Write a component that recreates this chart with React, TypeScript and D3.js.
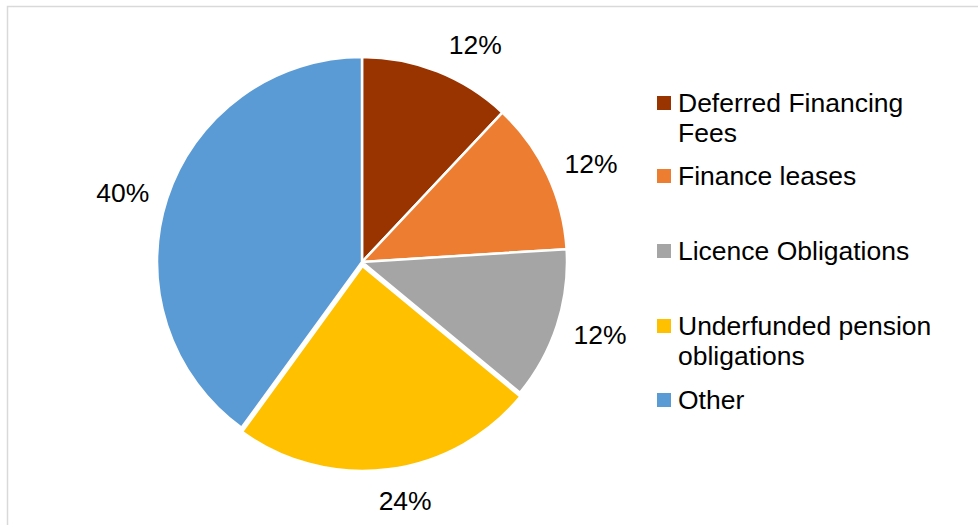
import React from "react";
import * as d3 from "d3";

const categories = [
    "Deferred Financing Fees",
    "Finance leases",
    "Licence Obligations",
    "Underfunded pension obligations",
    "Other",
];
const values = [12, 12, 12, 24, 40];
const pctLabels = ["12%", "12%", "12%", "24%", "40%"];
// legend text split into lines like the original wraps them
const legendLines = [
    ["Deferred Financing", "Fees"],
    ["Finance leases"],
    ["Licence Obligations"],
    ["Underfunded pension", "obligations"],
    ["Other"],
];
const colors = ["#993300", "#ED7D31", "#A5A5A5", "#FFC000", "#5B9BD5"];

const W = 978;
const H = 525;
const cx = 362;
const cy = 262;
const radius = 205;
const explodeIdx = 3; // yellow slice pulled out a bit
const explodeBy = 4;
// labels sit just outside the pie: box edge at labelGap from centre
const labelGap = 226;
const labelHalfW = 21;
const labelHalfH = 10;
// excel nudges some labels away from the mid angle (degrees)
const labelShift = [6, 2, -1, -3, -2];
const legendRowY = [103, 176, 251, 326, 400];
const stretchX = 1.06;

const font = "'Liberation Sans', Arial, sans-serif";

export default function App() {
    const pie = d3.pie<number>().sort(null).value(d => d);
    const arcs = pie(values);
    const arc = d3.arc<d3.PieArcDatum<number>>().innerRadius(0).outerRadius(radius);

    return (
        <svg width={W} height={H} style={{position: "absolute", left: 0, top: 0}} fontFamily={font}>
            <rect x={0} y={0} width={W} height={H} fill="#fff"/>
            <rect x={7.5} y={6.5} width={W + 20} height={H + 20} fill="none" stroke="#d9d9d9" strokeWidth={1.5}/>
            <g transform={`translate(${cx},${cy})`}>
                {arcs.map((a, i) => {
                    const mid = (a.startAngle + a.endAngle) / 2;
                    const off = i === explodeIdx ? explodeBy : 0;
                    const dx = Math.sin(mid) * off;
                    const dy = -Math.cos(mid) * off;
                    return (
                        <path
                            key={categories[i]}
                            d={arc(a) as string}
                            transform={`translate(${dx},${dy})`}
                            fill={colors[i]}
                            stroke="#fff"
                            strokeWidth={2.5}
                            strokeLinejoin="round"
                        />
                    );
                })}
                {arcs.map((a, i) => {
                    const mid = (a.startAngle + a.endAngle) / 2 + (labelShift[i] * Math.PI) / 180;
                    const s = Math.sin(mid);
                    const c = -Math.cos(mid);
                    const r = labelGap + labelHalfW * Math.abs(s) + labelHalfH * Math.abs(c)
                        + (i === explodeIdx ? explodeBy : 0);
                    return (
                        <text
                            key={"l" + i}
                            transform={`translate(${s * r},${c * r}) scale(${stretchX},1)`}
                            textAnchor="middle"
                            dominantBaseline="central"
                            fontSize={25}
                            fill="#000"
                        >
                            {pctLabels[i]}
                        </text>
                    );
                })}
            </g>
            <g>
                {categories.map((c, i) => (
                    <g key={c} transform={`translate(657,${legendRowY[i]})`}>
                        <rect x={0} y={-7} width={14} height={14} fill={colors[i]}/>
                        {legendLines[i].map((line, j) => (
                            <text
                                key={j}
                                transform={`translate(21,${j * 30}) scale(${stretchX},1)`}
                                dominantBaseline="central"
                                fontSize={25}
                                fill="#000"
                            >
                                {line}
                            </text>
                        ))}
                    </g>
                ))}
            </g>
        </svg>
    );
}
